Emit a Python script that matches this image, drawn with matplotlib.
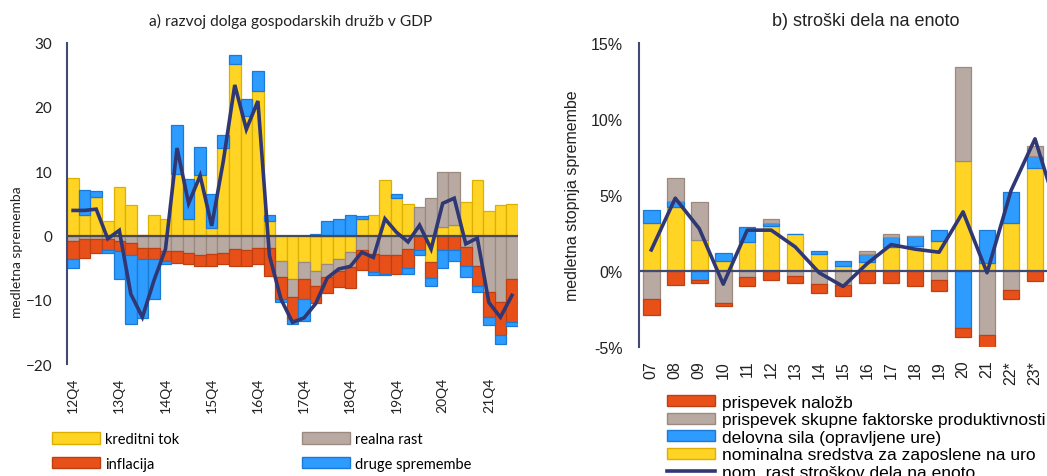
import numpy as np
import matplotlib
matplotlib.use('Agg')
import matplotlib.pyplot as plt
from matplotlib.patches import Patch
from matplotlib.lines import Line2D

# ---- a) razvoj dolga gospodarskih druzb v GDP ----
cetrtletja = ['12Q4', '13Q1', '13Q2', '13Q3', '13Q4', '14Q1', '14Q2', '14Q3', '14Q4',
              '15Q1', '15Q2', '15Q3', '15Q4', '16Q1', '16Q2', '16Q3', '16Q4',
              '17Q1', '17Q2', '17Q3', '17Q4', '18Q1', '18Q2', '18Q3', '18Q4',
              '19Q1', '19Q2', '19Q3', '19Q4', '20Q1', '20Q2', '20Q3', '20Q4',
              '21Q1', '21Q2', '21Q3', '21Q4', '22Q1', '22Q2']
kreditni_tok = [9.0, 3.2, 6.0, 2.3, 7.6, 4.7, 0.1, 3.2, 2.6, 9.6, 2.5, 9.4, 1.2, 13.6,
                26.7, 18.5, 22.5, 2.2, -4.0, -6.8, -4.1, -5.5, -4.5, -3.7, -2.6, 2.5,
                3.2, 8.7, 5.9, 4.9, 0.0, -4.1, 1.3, 1.6, 5.2, 8.7, 3.8, 4.7, 4.9]
realna_rast = [-0.8, -0.6, -0.5, -0.6, -0.8, -1.1, -1.9, -1.9, -2.4, -2.4, -2.7, -3.0,
               -2.9, -2.7, -2.1, -2.2, -1.9, -1.9, -2.5, -2.8, -2.7, -2.4, -1.9, -1.8,
               -2.3, -2.3, -2.8, -3.1, -3.1, -2.1, 4.4, 5.8, 8.5, 8.2, -1.8, -4.7,
               -8.8, -10.4, -6.7]
inflacija = [-2.8, -2.9, -2.2, -1.7, -1.6, -1.9, -1.8, -1.8, -1.6, -1.8, -1.8, -1.7,
             -1.9, -1.8, -2.7, -2.5, -2.6, -4.4, -3.4, -3.3, -3.1, -2.6, -2.5, -2.5,
             -3.2, -3.1, -2.9, -2.9, -2.9, -3.0, -2.3, -2.5, -2.2, -2.3, -2.9, -3.2,
             -3.9, -5.1, -6.7]
druge_spremembe = [-1.5, 3.8, 0.9, -0.4, -4.4, -10.8, -9.1, -6.1, -0.5, 7.6, 6.3, 4.3,
                   5.3, 2.1, 1.3, 2.7, 3.1, 1.0, -0.5, -0.9, -3.4, 0.2, 2.3, 2.6, 3.2,
                   0.6, -0.4, -0.2, 0.6, -0.9, -0.7, -1.3, -2.9, -1.6, -1.8, -0.9,
                   -1.2, -1.3, -0.7]
sprememba_dolga = [3.9, 3.9, 4.1, -0.5, 0.8, -9.1, -12.7, -7.0, -2.1, 13.6, 5.0, 9.3,
                   1.5, 11.5, 23.4, 16.5, 20.9, -3.1, -9.9, -13.5, -12.8, -10.6, -6.6,
                   -5.2, -4.8, -2.6, -3.4, 2.6, 0.5, -1.0, 1.6, -2.1, 5.0, 5.8, -1.3,
                   -0.4, -10.4, -12.7, -9.3]

# ---- b) stroski dela na enoto (v %) ----
leta = ['07', '08', '09', '10', '11', '12', '13', '14', '15', '16', '17', '18', '19',
        '20', '21', '22*', '23*']
nominalna_sredstva = [3.2, 4.25, 2.07, 0.65, 1.9, 3.0, 2.45, 1.1, 0.37, 0.6, 1.6, 1.63,
                      2.0, 7.25, 0.55, 3.2, 6.76]
delovna_sila = [0.8, 0.35, -0.6, 0.55, 1.0, 0.15, 0.0, 0.2, 0.33, 0.5, 0.64, 0.67, 0.7,
                -3.7, 2.15, 2.0, 0.8]
prispevek_sfp = [-1.85, 1.5, 2.5, -2.1, -0.4, 0.25, -0.3, -0.87, -0.93, 0.2, 0.21, 0.0,
                 -0.55, 6.15, -4.2, -1.24, 0.64]
prispevek_nalozb = [-1.05, -0.93, -0.2, -0.2, -0.6, -0.55, -0.45, -0.53, -0.67, -0.8,
                    -0.8, -1.0, -0.75, -0.65, -0.9, -0.56, -0.65]
# the last point belongs to the next year, cut off at the right edge
rast_ulc = [1.4, 4.8, 2.8, -0.85, 2.7, 2.7, 1.6, -0.1, -1.0, 0.5, 1.75, 1.45, 1.25, 3.9,
            -0.1, 5.3, 8.7, 3.6]

YELLOW, YELLOW_E = '#ffd424', '#dcb000'
GRAY, GRAY_E = '#b8aaa2', '#9a8a80'
ORANGE, ORANGE_E = '#e8501a', '#bf3f10'
BLUE, BLUE_E = '#2e9bff', '#1b7ad6'
NAVY = '#2f3775'
AXIS = '#424a74'


def stacked_bars(ax, x, series, width):
    pos = np.zeros(len(x))
    neg = np.zeros(len(x))
    for vals, col, edge in series:
        vals = np.asarray(vals, dtype=float)
        bottom = np.where(vals >= 0, pos, neg)
        ax.bar(x, vals, width, bottom=bottom, color=col, edgecolor=edge,
               linewidth=0.9, zorder=2)
        pos = pos + np.clip(vals, 0, None)
        neg = neg + np.clip(vals, None, 0)


fig = plt.figure(figsize=(10.47, 4.77), dpi=100)

# left chart
ax1 = fig.add_axes([0.0643, 0.2344, 0.4302, 0.6744])
x1 = np.arange(len(cetrtletja))
stacked_bars(ax1, x1, [(kreditni_tok, YELLOW, YELLOW_E),
                       (realna_rast, GRAY, GRAY_E),
                       (inflacija, ORANGE, ORANGE_E),
                       (druge_spremembe, BLUE, BLUE_E)], 1.0)
ax1.axhline(0, color='#4a4a55', lw=1.6, zorder=3)
ax1.plot(x1, sprememba_dolga, color=NAVY, lw=2.6, zorder=4, solid_joinstyle='miter')
ax1.set_xlim(-0.5, len(cetrtletja) - 0.5)
ax1.set_ylim(-20, 30)
ax1.set_yticks([-20, -10, 0, 10, 20, 30])
ax1.set_xticks(x1[::4])
ax1.set_xticklabels(cetrtletja[::4], rotation=90, fontsize=10, family='Lato')
for lab in ax1.get_yticklabels():
    lab.set_family('Lato')
    lab.set_fontsize(11)
ax1.tick_params(axis='both', length=0, colors='#222222')
ax1.tick_params(axis='y', pad=11)
ax1.tick_params(axis='x', pad=9)
for s in ['top', 'right', 'bottom']:
    ax1.spines[s].set_visible(False)
ax1.spines['left'].set_color(AXIS)
ax1.spines['left'].set_linewidth(1.5)

fig.text(291 / 1047, 1 - 21 / 477, 'a) razvoj dolga gospodarskih družb v GDP',
         ha='center', va='center', fontsize=11.2, family='Lato', color='#222222')
fig.text(17 / 1047, 1 - 252 / 477, 'medletna sprememba', rotation=90,
         ha='center', va='center', fontsize=10, family='Lato', color='#222222')

h1 = [Patch(facecolor=YELLOW, edgecolor=YELLOW_E), Patch(facecolor=ORANGE, edgecolor=ORANGE_E),
      Patch(facecolor=GRAY, edgecolor=GRAY_E), Patch(facecolor=BLUE, edgecolor=BLUE_E)]
l1 = ['kreditni tok', 'inflacija', 'realna rast', 'druge spremembe']
fig.legend(h1, l1, ncol=2, loc='upper left', bbox_to_anchor=(52 / 1047, 1 - 433 / 477),
           frameon=False, prop={'family': 'Lato', 'size': 10.5}, borderpad=0,
           borderaxespad=0, handlelength=3.3, handleheight=0.8, handletextpad=0.35,
           labelspacing=0.75, columnspacing=8.4)

# right chart
ax2 = fig.add_axes([0.6106, 0.2698, 0.3894, 0.638])
x2 = np.arange(len(leta))
stacked_bars(ax2, x2, [(nominalna_sredstva, YELLOW, YELLOW_E),
                       (delovna_sila, BLUE, BLUE_E),
                       (prispevek_sfp, GRAY, GRAY_E),
                       (prispevek_nalozb, ORANGE, ORANGE_E)], 0.69)
ax2.axhline(0, color=AXIS, lw=1.6, zorder=3)
ax2.plot(np.arange(len(rast_ulc)), rast_ulc, color=NAVY, lw=2.6, zorder=4)
ax2.set_xlim(-0.5, len(leta) - 0.5)
ax2.set_ylim(-5, 15)
ax2.set_yticks([-5, 0, 5, 10, 15])
ax2.set_yticklabels(['-5%', '0%', '5%', '10%', '15%'], fontsize=11.5,
                    family='Liberation Sans')
ax2.set_xticks(x2)
ax2.set_xticklabels(leta, rotation=90, fontsize=11.5, family='Liberation Sans')
ax2.tick_params(axis='both', length=0, colors='#222222')
ax2.tick_params(axis='y', pad=12)
ax2.tick_params(axis='x', pad=9)
for s in ['top', 'right', 'bottom']:
    ax2.spines[s].set_visible(False)
ax2.spines['left'].set_color(AXIS)
ax2.spines['left'].set_linewidth(1.5)

fig.text(866 / 1047, 1 - 21 / 477, 'b) stroški dela na enoto', ha='center', va='center',
         fontsize=13, family='Liberation Sans', color='#222222')
fig.text(572 / 1047, 1 - 196 / 477, 'medletna stopnja spremembe', rotation=90,
         ha='center', va='center', fontsize=11.5, family='Liberation Sans', color='#222222')

h2 = [Patch(facecolor=ORANGE, edgecolor=ORANGE_E), Patch(facecolor=GRAY, edgecolor=GRAY_E),
      Patch(facecolor=BLUE, edgecolor=BLUE_E), Patch(facecolor=YELLOW, edgecolor=YELLOW_E),
      Line2D([], [], color=NAVY, lw=2.6)]
l2 = ['prispevek naložb', 'prispevek skupne faktorske produktivnosti',
      'delovna sila (opravljene ure)', 'nominalna sredstva za zaposlene na uro',
      'nom. rast stroškov dela na enoto']
fig.legend(h2, l2, loc='upper left', bbox_to_anchor=(667 / 1047, 1 - 396 / 477),
           frameon=False, prop={'family': 'Liberation Sans', 'size': 12.5}, borderpad=0,
           borderaxespad=0, handlelength=2.76, handleheight=0.6, handletextpad=0.4,
           labelspacing=0.14)

fig.savefig('out.png', dpi=100)
